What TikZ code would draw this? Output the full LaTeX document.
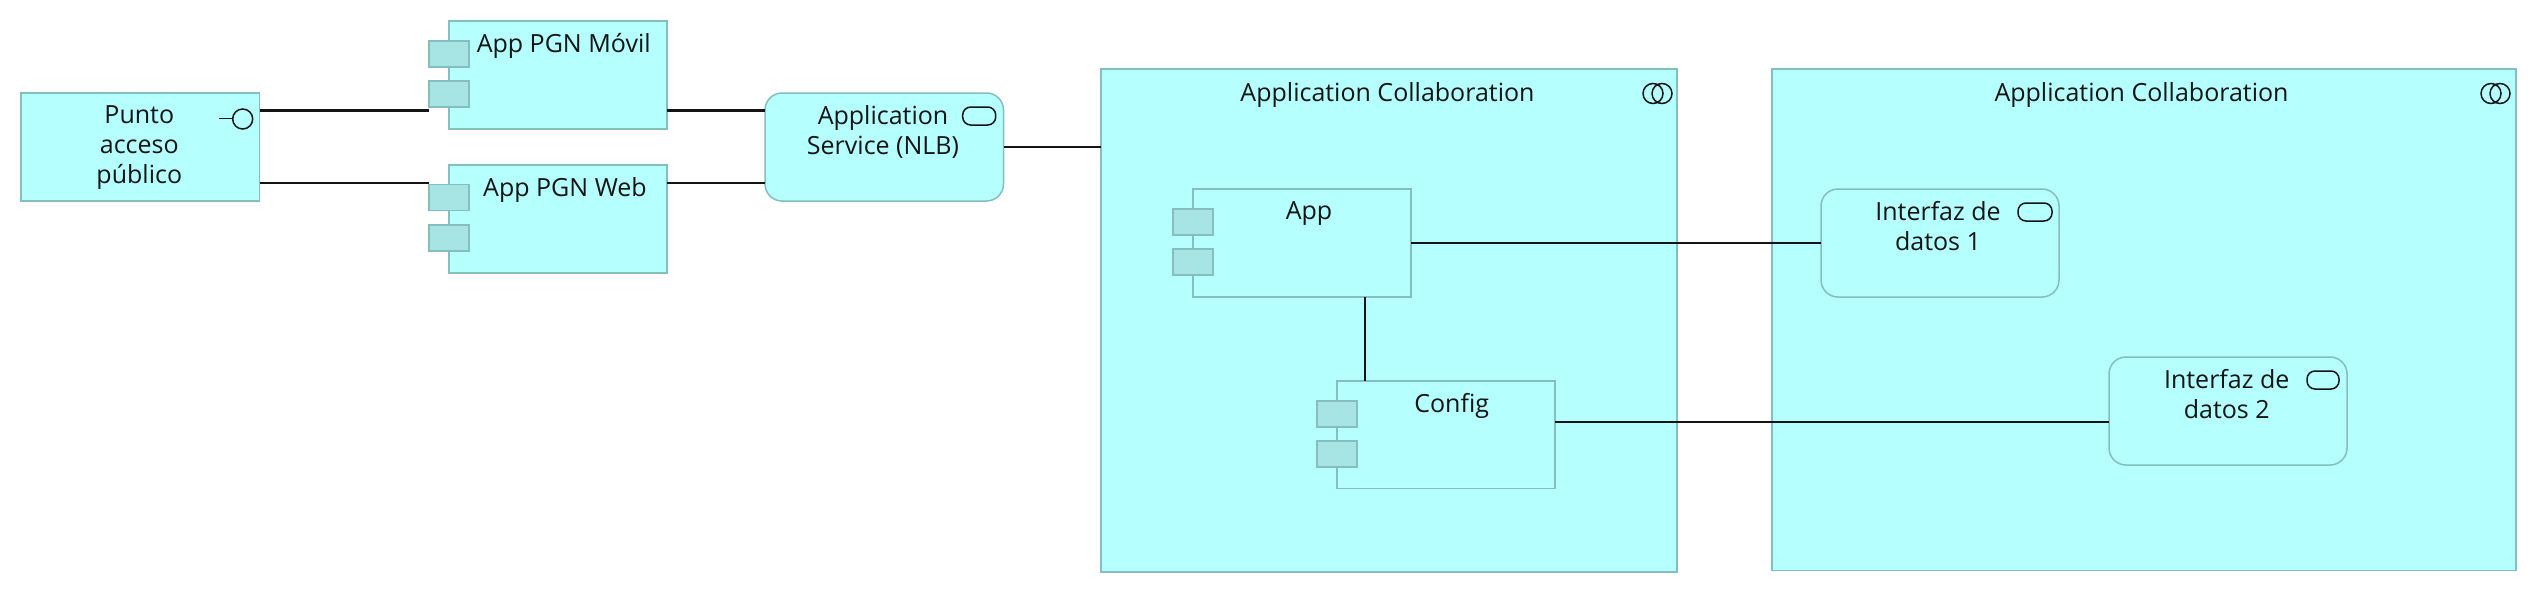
\documentclass[tikz,border=0pt]{standalone}
\usepackage{fontspec}
\setmainfont{Open Sans}
\definecolor{archfill}{HTML}{B5FFFF}
\definecolor{archedge}{HTML}{86BDBD}
\definecolor{archtab}{HTML}{A6E5E3}
\definecolor{archline}{HTML}{141414}
\newcommand{\firstline}{\rule{0pt}{18pt}}
\tikzset{
  x=1pt,y=-1pt,
  plainbox/.style={draw=archedge,fill=archfill,line width=1.8pt,rectangle,inner sep=0pt,outer sep=0pt},
  roundbox/.style={plainbox,line width=1.5pt,rounded corners=17pt},
  tabbox/.style={draw=archedge,fill=archtab,line width=1.8pt,rectangle,inner sep=0pt,outer sep=0pt,minimum width=40pt,minimum height=26pt},
  lbl/.style={anchor=north,inner sep=0pt,outer sep=0pt,align=center,text=archline,font=\fontsize{25}{30}\selectfont},
  conn/.style={draw=archline,line width=2.2pt},
  icon/.style={draw=archline,line width=1.5pt,fill=none},
}
\newcommand{\abox}[7]{% name style x0 y0 x1 y1
  \node[#2,minimum width=#5pt-#3pt,minimum height=#6pt-#4pt] (#1) at ({(#3+#5)/2},{(#4+#6)/2}) {};}
\begin{document}
\begin{tikzpicture}
\useasboundingbox (0,0) rectangle (2536,594);
% containers
\abox{collA}{plainbox}{1101}{69}{1677}{571.8}{}
\abox{collB}{plainbox}{1772}{69}{2516}{570.5}{}
% elements
\abox{punto}{plainbox}{21}{93}{259.5}{201}{}
\abox{movil}{plainbox}{449}{21}{667}{129}{}
\abox{web}{plainbox}{449}{165}{667}{273}{}
\abox{service}{roundbox}{765}{93}{1003.5}{201}{}
\abox{app}{plainbox}{1193}{189}{1411}{297}{}
\abox{config}{plainbox}{1337}{381}{1555}{488.5}{}
\abox{dataA}{roundbox}{1821}{189}{2059}{297}{}
\abox{dataB}{roundbox}{2109}{357}{2347}{465}{}
% component tabs
\node[tabbox] (movilT) at (449,54) {};
\node[tabbox] (movilB) at (449,94) {};
\node[tabbox] (webT) at (449,197.5) {};
\node[tabbox] (webB) at (449,238) {};
\node[tabbox] (appT) at (1193,222) {};
\node[tabbox] (appB) at (1193,262) {};
\node[tabbox] (configT) at (1337,414) {};
\node[tabbox] (configB) at (1337,454) {};
% levels of the connectors
\coordinate (levelA) at (0,110.5);
\coordinate (levelB) at (0,182.7);
\coordinate (levelC) at (0,146.7);
\coordinate (levelD) at (0,243);
\coordinate (levelE) at (0,422.3);
\coordinate (colX) at (1365,0);
% connectors
\draw[conn] (punto.east |- levelA) -- (movilT.west |- levelA);
\draw[conn] (punto.east |- levelB) -- (webT.west |- levelB);
\draw[conn] (movil.east |- levelA) -- (service.west |- levelA);
\draw[conn] (web.east |- levelB) -- (service.west |- levelB);
\draw[conn] (service.east |- levelC) -- (collA.west |- levelC);
\draw[conn] (app.east |- levelD) -- (dataA.west |- levelD);
\draw[conn] (config.east |- levelE) -- (dataB.west |- levelE);
\draw[conn] (colX |- app.south) -- (colX |- config.north);
% icons
\draw[icon] (219,118.7) -- (232.5,118.7);
\draw[icon] (242.7,119) circle (10);
\draw[icon,rounded corners=8pt] (962.7,107) rectangle (995.7,125);
\draw[icon,rounded corners=8pt] (2018,203) rectangle (2052,221);
\draw[icon,rounded corners=8pt] (2307,371) rectangle (2339,389);
\draw[icon] (1653,93.5) circle (10);
\draw[icon] (1662,93.5) circle (10);
\draw[icon] (2491,93.5) circle (10);
\draw[icon] (2500,93.5) circle (10);
% labels
\node[lbl] (lPunto) at (139.3,105.7) {\firstline Punto\\acceso\\público};
\node[lbl] (lMovil) at (563.7,33) {\firstline App PGN Móvil};
\node[lbl] (lWeb) at (565,177.5) {\firstline App PGN Web};
\node[lbl] (lService) at (883,105.5) {\firstline Application\\Service (NLB)};
\node[lbl] (lCollA) at (1387.5,82.5) {\firstline Application Collaboration};
\node[lbl] (lCollB) at (2141.5,82.5) {\firstline Application Collaboration};
\node[lbl] (lApp) at (1309,201.5) {\firstline App};
\node[lbl] (lConfig) at (1451.7,393.7) {\firstline Config};
\node[lbl] (lDataA) at (1938,201.7) {\firstline Interfaz de\\datos 1};
\node[lbl] (lDataB) at (2226.7,369.7) {\firstline Interfaz de\\datos 2};
\end{tikzpicture}
\end{document}
